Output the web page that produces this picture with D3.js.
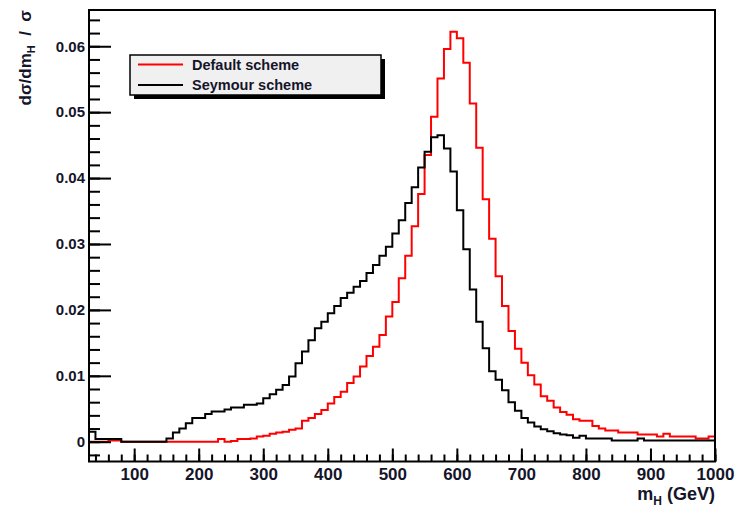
<!DOCTYPE html>
<html>
<head>
<meta charset="utf-8">
<script src="https://cdn.jsdelivr.net/npm/d3@7"></script>
<style>
  body { margin: 0; background: #fff; }
  svg { display: block; font-family: "Liberation Sans", Arial, sans-serif; font-weight: bold; }
</style>
</head>
<body>
<svg id="chart" width="739" height="510"></svg>
<script>
// histogram binning (GeV): 10 GeV bins starting at 30
const binLow = 30, binWidth = 10;

// dsigma/dmH / sigma, one value per bin, 10 per row (30-120, 130-220, ...)
const defaultScheme = [
  0, 0, 0, 0.0002, 0.0002, 0, 0, 0, 0, 0,
  0, 0, 0, 0, 0, 0, 0, 0, 0, 0,
  0.0004, 0, 0.0001, 0.0004, 0.0004, 0.0005, 0.0008, 0.0009, 0.0012, 0.0014,
  0.0015, 0.0018, 0.0020, 0.0032, 0.0036, 0.0042, 0.0048, 0.0058, 0.0068, 0.0076,
  0.0089, 0.0099, 0.0114, 0.0130, 0.0144, 0.0162, 0.0190, 0.0212, 0.0248, 0.0282,
  0.0327, 0.0376, 0.0435, 0.0493, 0.0551, 0.0596, 0.0622, 0.0612, 0.0575, 0.0513,
  0.0446, 0.0368, 0.0308, 0.0251, 0.0206, 0.0168, 0.0141, 0.0120, 0.0101, 0.0087,
  0.0069, 0.0062, 0.0052, 0.0045, 0.0041, 0.0034, 0.0032, 0.0032, 0.0024, 0.0020,
  0.0017, 0.0017, 0.0014, 0.0014, 0.0014, 0.0011, 0.0011, 0.0011, 0.0008, 0.0012,
  0.0008, 0.0008, 0.0008, 0.0008, 0.0005, 0.0005, 0.0008
];

const seymourScheme = [
  0.0015, 0.0004, 0.0004, 0.0004, 0.0004, 0, 0, 0, 0, 0,
  0, 0, 0.0005, 0.0014, 0.0020, 0.0028, 0.0036, 0.0036, 0.0042, 0.0046,
  0.0046, 0.0049, 0.0052, 0.0052, 0.0056, 0.0056, 0.0058, 0.0066, 0.0072, 0.0079,
  0.0086, 0.0099, 0.0119, 0.0137, 0.0154, 0.0172, 0.0182, 0.0195, 0.0206, 0.0218,
  0.0226, 0.0235, 0.0244, 0.0256, 0.0268, 0.0282, 0.0296, 0.0316, 0.0336, 0.0362,
  0.0386, 0.0416, 0.0440, 0.0462, 0.0465, 0.0445, 0.0410, 0.0351, 0.0292, 0.0231,
  0.0182, 0.0142, 0.0107, 0.0094, 0.0078, 0.0060, 0.0047, 0.0036, 0.0029, 0.0023,
  0.0019, 0.0016, 0.0013, 0.0011, 0.0010, 0.0006, 0.0009, 0.0005, 0.0005, 0.0005,
  0.0005, 0.0002, 0.0002, 0.0002, 0.0002, 0.0005, 0.0002, 0.0002, 0.0002, 0.0002,
  0.0002, 0.0002, 0.0002, 0.0002, 0.0002, 0.0002, 0.0002
];

const xTicks = [100, 200, 300, 400, 500, 600, 700, 800, 900, 1000];
const yTicks = [0, 0.01, 0.02, 0.03, 0.04, 0.05, 0.06];
const legendLabels = ["Default scheme", "Seymour scheme"];
const seriesColors = ["#ff0000", "#000000"];

const frame = { left: 89, right: 715, top: 10, bottom: 461.5 };
const svg = d3.select('#chart');

const x = d3.scaleLinear().domain([30, 1000]).range([frame.left, frame.right]);
const y = d3.scaleLinear().domain([-0.003, 0.0655]).range([frame.bottom, frame.top]);

svg.append('defs').append('clipPath').attr('id', 'plotclip')
  .append('rect')
  .attr('x', frame.left).attr('y', frame.top)
  .attr('width', frame.right - frame.left).attr('height', frame.bottom - frame.top);

// histograms as step lines
function stepPoints(vals){
  const pts = vals.map((v, i) => [binLow + i * binWidth, v]);
  pts.push([binLow + vals.length * binWidth, vals[vals.length - 1]]);
  return pts;
}
const line = d3.line().x(d => x(d[0])).y(d => y(d[1])).curve(d3.curveStepAfter);

const plot = svg.append('g').attr('clip-path', 'url(#plotclip)');
[defaultScheme, seymourScheme].forEach((vals, i) => {
  plot.append('path')
    .attr('d', line(stepPoints(vals)))
    .attr('fill', 'none')
    .attr('stroke', seriesColors[i])
    .attr('stroke-width', 2);
});

// frame
svg.append('rect')
  .attr('x', frame.left).attr('y', frame.top)
  .attr('width', frame.right - frame.left).attr('height', frame.bottom - frame.top)
  .attr('fill', 'none').attr('stroke', '#000').attr('stroke-width', 2);

// y axis: ticks pointing inside
const yMinor = d3.range(-0.002, 0.0651, 0.002);
svg.append('g')
  .attr('transform', `translate(${frame.left},0)`)
  .call(d3.axisLeft(y).tickValues(yMinor).tickSizeInner(-11).tickSizeOuter(0).tickFormat(''))
  .call(g => g.select('.domain').remove())
  .call(g => g.selectAll('line').attr('stroke-width', 2));

svg.append('g')
  .attr('transform', `translate(${frame.left},0)`)
  .call(d3.axisLeft(y).tickValues(yTicks).tickSizeInner(-22).tickSizeOuter(0).tickPadding(4)
    .tickFormat(d => d === 0 ? '0' : d3.format('.2f')(d)))
  .call(g => g.select('.domain').remove())
  .call(g => g.selectAll('line').attr('stroke-width', 2))
  .call(g => g.selectAll('text')
    .attr('font-family', '"Liberation Sans", Arial, sans-serif')
    .attr('font-weight', 'bold').attr('font-size', 15).attr('fill', '#15152a'));

// x axis: ticks pointing up
const xMinor = d3.range(40, 1001, 20);
svg.append('g')
  .attr('transform', `translate(0,${frame.bottom})`)
  .call(d3.axisBottom(x).tickValues(xMinor).tickSizeInner(-7).tickSizeOuter(0).tickFormat(''))
  .call(g => g.select('.domain').remove())
  .call(g => g.selectAll('line').attr('stroke-width', 2));

svg.append('g')
  .attr('transform', `translate(0,${frame.bottom})`)
  .call(d3.axisBottom(x).tickValues(xTicks).tickSizeInner(-13).tickSizeOuter(0).tickPadding(6)
    .tickFormat(d3.format('d')))
  .call(g => g.select('.domain').remove())
  .call(g => g.selectAll('line').attr('stroke-width', 2))
  .call(g => g.selectAll('text')
    .attr('font-family', '"Liberation Sans", Arial, sans-serif')
    .attr('font-weight', 'bold').attr('font-size', 17).attr('fill', '#15152a'));

// axis titles
const xTitle = svg.append('text')
  .attr('x', frame.right).attr('y', 500)
  .attr('text-anchor', 'end')
  .attr('font-size', 18).attr('fill', '#15152a');
xTitle.append('tspan').text('m');
xTitle.append('tspan').attr('font-size', 12).attr('dy', 5).text('H');
xTitle.append('tspan').attr('dy', -5).text(' (GeV)');

const yTitle = svg.append('text')
  .attr('transform', 'translate(31,10) rotate(-90)')
  .attr('text-anchor', 'end')
  .attr('font-size', 17).attr('fill', '#15152a')
  .attr('xml:space', 'preserve');
yTitle.append('tspan').text('dσ/dm');
yTitle.append('tspan').attr('font-size', 11).attr('dy', 4).text('H');
yTitle.append('tspan').attr('dy', -4).text('  /  σ');

// legend
const legend = { x: 130, y: 55, w: 251, h: 40 };
svg.append('rect')
  .attr('x', legend.x + 4).attr('y', legend.y + 4)
  .attr('width', legend.w).attr('height', legend.h)
  .attr('fill', '#000');
svg.append('rect')
  .attr('x', legend.x).attr('y', legend.y)
  .attr('width', legend.w).attr('height', legend.h)
  .attr('fill', '#f0f0f0').attr('stroke', '#000').attr('stroke-width', 1.5);

legendLabels.forEach((label, i) => {
  const ly = legend.y + 9.5 + i * 20.5;
  svg.append('line')
    .attr('x1', 138).attr('x2', 183)
    .attr('y1', ly).attr('y2', ly)
    .attr('stroke', seriesColors[i]).attr('stroke-width', 2);
  svg.append('text')
    .attr('x', 192).attr('y', ly + 5)
    .attr('font-size', 14.5).attr('fill', '#15152a')
    .text(label);
});
</script>
</body>
</html>
